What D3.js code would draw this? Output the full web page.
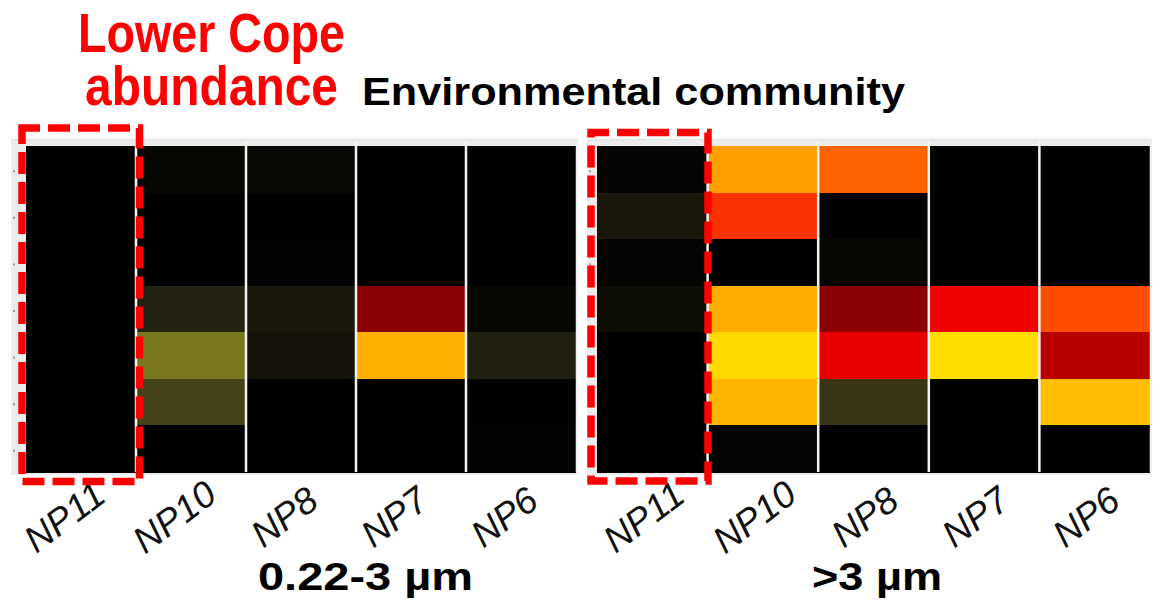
<!DOCTYPE html>
<html>
<head>
<meta charset="utf-8">
<script src="https://cdn.jsdelivr.net/npm/d3@7"></script>
<style>
  body { margin: 0; background: #fff; }
  svg { display: block; }
</style>
</head>
<body>
<div id="chart"></div>
<script>
// samples (columns) and the 7 unnamed rows of each heatmap
var samples = ["NP11", "NP10", "NP8", "NP7", "NP6"];
var rows = ["r1", "r2", "r3", "r4", "r5", "r6", "r7"];

// cell values, one list per sample, top row first
var small_NP11 = [0, 0, 0, 0, 0, 0, 0];
var small_NP10 = [0.035, 0, 0, 0.15, 0.35, 0.25, 0];
var small_NP8  = [0.04, 0, 0.01, 0.1, 0.08, 0, 0];
var small_NP7  = [0, 0, 0, 0.4, 0.9, 0, 0];
var small_NP6  = [0, 0, 0, 0.03, 0.13, 0, 0.01];

var large_NP11 = [0.025, 0.1, 0.025, 0.063, 0, 0, 0];
var large_NP10 = [0.867, 0.68, 0, 0.892, 0.99, 0.91, 0.02];
var large_NP8  = [0.755, 0, 0.03, 0.4, 0.586, 0.209, 0];
var large_NP7  = [0, 0, 0, 0.6, 1, 0, 0];
var large_NP6  = [0, 0, 0, 0.72, 0.5, 0.931, 0];

var smallFraction = [small_NP11, small_NP10, small_NP8, small_NP7, small_NP6];
var largeFraction = [large_NP11, large_NP10, large_NP8, large_NP7, large_NP6];

// colour ramp of the heatmap
var colorDomain = [0, 0.05, 0.1, 0.15, 0.25, 0.35, 0.4, 0.5, 0.6, 0.7, 0.8, 0.9, 1];
var colorRange = ["#000000", "#0a0a05", "#1a180c", "#242312", "#464218", "#7a781e",
                  "#8b0000", "#b80000", "#f00000", "#ff4000", "#ff8000", "#ffb000", "#ffdd00"];

var width = 1166, height = 606;

var svg = d3.select("#chart")
    .append("svg")
    .attr("width", width)
    .attr("height", height);

var color = d3.scaleLinear()
    .domain(colorDomain)
    .range(colorRange)
    .interpolate(d3.interpolateRgb);

var panels = [
    {values: smallFraction, x0: 26, x1: 576, bg0: 11, title: "0.22-3 \u00b5m", titleX: 258, titleW: 215, labelShift: -16,
     box: [22, 128, 139.5, 481.5]},
    {values: largeFraction, x0: 597, x1: 1150, bg0: 587, title: ">3 \u00b5m", titleX: 812, titleW: 130, labelShift: -8,
     box: [591, 132.5, 708, 481]}
];

// note: "top" is taken by window.top, so other names here
var yTop = 146, yBottom = 472;

panels.forEach(function(p) {
    var g = svg.append("g");

    var x = d3.scaleBand()
        .domain(samples)
        .range([p.x0, p.x1]);

    var y = d3.scaleBand()
        .domain(rows)
        .range([yTop, yBottom]);

    // grey panel background
    g.append("rect")
        .attr("x", p.bg0)
        .attr("y", 139)
        .attr("width", p.x1 + 2 - p.bg0)
        .attr("height", yBottom + 3 - 139)
        .attr("fill", "#ececec");
    g.append("line")
        .attr("x1", p.bg0).attr("x2", p.x1 + 2)
        .attr("y1", 139.5).attr("y2", 139.5)
        .attr("stroke", "#dcdcdc");

    // y ticks (no labels)
    g.append("g")
        .attr("transform", "translate(" + (p.bg0 + 4) + ",2)")
        .call(d3.axisLeft(y).tickSize(2).tickFormat(""))
        .call(function(a) {
            a.select(".domain").remove();
            a.selectAll(".tick line").attr("stroke", "#999").attr("stroke-width", 2);
        });

    // cells
    var cells = [];
    samples.forEach(function(s, i) {
        rows.forEach(function(r, j) {
            cells.push({sample: s, row: r, value: p.values[i][j]});
        });
    });

    g.selectAll(".cell")
        .data(cells)
        .enter().append("rect")
        .attr("class", "cell")
        .attr("x", function(d) { return x(d.sample); })
        .attr("y", function(d) { return y(d.row); })
        .attr("width", x.bandwidth())
        .attr("height", y.bandwidth() + 1)
        .attr("shape-rendering", "crispEdges")
        .attr("fill", function(d) { return color(d.value); });

    // white separators between samples
    g.selectAll(".sep")
        .data(samples.slice(1).concat(["end"]))
        .enter().append("line")
        .attr("x1", function(d) { return d === "end" ? p.x1 + 0.5 : x(d); })
        .attr("x2", function(d) { return d === "end" ? p.x1 + 0.5 : x(d); })
        .attr("y1", 140)
        .attr("y2", yBottom)
        .attr("stroke", "#f2f2f2")
        .attr("stroke-width", function(d) { return d === "end" ? 1.5 : 2.5; });

    // sample labels
    g.selectAll(".lab")
        .data(samples)
        .enter().append("text")
        .attr("transform", function(d) {
            return "translate(" + (x(d) + x.bandwidth() / 2 + p.labelShift + 7) + ",527) rotate(-37)";
        })
        .attr("text-anchor", "middle")
        .attr("font-family", "Liberation Sans, Arial, sans-serif")
        .attr("font-style", "italic")
        .attr("font-size", "37px")
        .attr("fill", "#111")
        .text(function(d) { return d; });

    // size fraction title
    g.append("text")
        .attr("x", p.titleX)
        .attr("y", 590)
        .attr("font-family", "Liberation Sans, Arial, sans-serif")
        .attr("font-weight", "bold")
        .attr("font-size", "39px")
        .attr("textLength", p.titleW)
        .attr("lengthAdjust", "spacingAndGlyphs")
        .text(p.title);

    // red dashed box round NP11
    g.append("rect")
        .attr("x", p.box[0])
        .attr("y", p.box[1])
        .attr("width", p.box[2] - p.box[0])
        .attr("height", p.box[3] - p.box[1])
        .attr("fill", "none")
        .attr("stroke", "#ff0000")
        .attr("stroke-width", 7.5)
        .attr("stroke-dasharray", "22,8")
        .attr("stroke-dashoffset", 4);
});

// headings
svg.append("text")
    .attr("x", 211.5)
    .attr("y", 52)
    .attr("text-anchor", "middle")
    .attr("font-family", "Liberation Sans, Arial, sans-serif")
    .attr("font-weight", "bold")
    .attr("font-size", "55px")
    .attr("fill", "#ff0000")
    .attr("textLength", 267)
    .attr("lengthAdjust", "spacingAndGlyphs")
    .text("Lower Cope");

svg.append("text")
    .attr("x", 211.5)
    .attr("y", 105)
    .attr("text-anchor", "middle")
    .attr("font-family", "Liberation Sans, Arial, sans-serif")
    .attr("font-weight", "bold")
    .attr("font-size", "55px")
    .attr("fill", "#ff0000")
    .attr("textLength", 253)
    .attr("lengthAdjust", "spacingAndGlyphs")
    .text("abundance");

svg.append("text")
    .attr("x", 362)
    .attr("y", 105)
    .attr("font-family", "Liberation Sans, Arial, sans-serif")
    .attr("font-weight", "bold")
    .attr("font-size", "39px")
    .attr("fill", "#000")
    .attr("textLength", 543)
    .attr("lengthAdjust", "spacingAndGlyphs")
    .text("Environmental community");
</script>
</body>
</html>
